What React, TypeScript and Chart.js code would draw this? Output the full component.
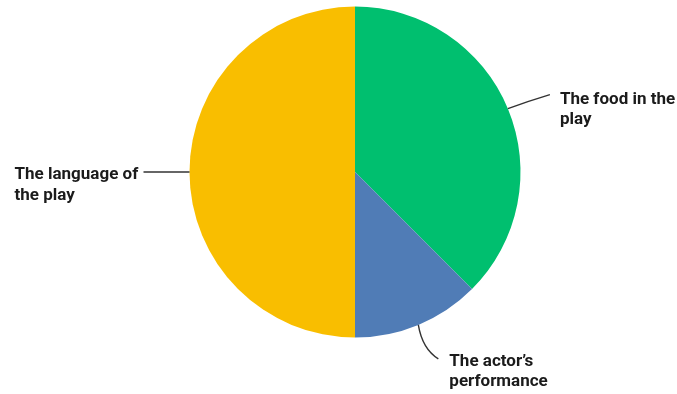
import React, { useEffect, useRef } from "react";
import { Chart, registerables } from "chart.js";

Chart.register(...registerables);

const categories: string[][] = [
  ["The food in the", "play"],
  ["The actor\u2019s", "performance"],
  ["The language of", "the play"],
];
const values: number[] = [37.5, 12.5, 50];
const colors: string[] = ["#00BF6F", "#507CB6", "#F9BE00"];

// label placement relative to each slice's outer mid point: [lineEndDx, lineEndDy, ctrlDx, ctrlDy, textX offset, textBaseline offset, align]
const labelLayout: any[] = [
  { end: [42, -14], ctrl: [22, -8], text: [52, -5], align: "left" },
  { end: [20, 34], ctrl: [4, 24], text: [31, 41], align: "left" },
  { end: [-46, 0], ctrl: [-20, 0], text: [-175, 7], align: "left" },
];

const FONT = "bold 17px Roboto, 'Noto Sans', sans-serif";

const labelPlugin = {
  id: "pieLabels",
  afterDatasetsDraw(chart: any) {
    const ctx = chart.ctx;
    const meta = chart.getDatasetMeta(0);
    meta.data.forEach((arc: any, i: number) => {
      const p = arc.getProps(["x", "y", "startAngle", "endAngle", "outerRadius"], true);
      const mid = (p.startAngle + p.endAngle) / 2;
      const ax = p.x + Math.cos(mid) * p.outerRadius;
      const ay = p.y + Math.sin(mid) * p.outerRadius;
      const L = labelLayout[i];
      ctx.save();
      ctx.strokeStyle = "#333333";
      ctx.lineWidth = 1.4;
      ctx.beginPath();
      ctx.moveTo(ax, ay);
      ctx.quadraticCurveTo(ax + L.ctrl[0], ay + L.ctrl[1], ax + L.end[0], ay + L.end[1]);
      ctx.stroke();
      ctx.fillStyle = "#1b1b1b";
      ctx.font = FONT;
      ctx.textAlign = L.align;
      ctx.textBaseline = "alphabetic";
      const lines = categories[i];
      lines.forEach((t: string, k: number) => {
        ctx.fillText(t, ax + L.text[0], ay + L.text[1] + k * 20.5);
      });
      ctx.restore();
    });
  },
};

export default function App() {
  const ref = useRef<HTMLCanvasElement>(null);
  useEffect(() => {
    if (!ref.current) return;
    const chart = new Chart(ref.current, {
      type: "pie",
      data: {
        labels: categories.map((c) => c.join(" ")),
        datasets: [
          {
            data: values,
            backgroundColor: colors,
            borderWidth: 0,
            hoverOffset: 0,
            offset: 0,
          } as any,
        ],
      },
      options: {
        animation: false,
        responsive: false,
        maintainAspectRatio: false,
        layout: { padding: { top: 6.5, bottom: 56.5, left: 189.5, right: 156.5 } },
        plugins: {
          legend: { display: false },
          tooltip: { enabled: false },
        },
        events: [],
      },
      plugins: [labelPlugin],
    });
    return () => chart.destroy();
  }, []);
  return (
    <div style={{ position: "fixed", left: 0, top: 0, width: 677, height: 394, background: "#fff" }}>
      <canvas ref={ref} width={677} height={394} style={{ display: "block", width: 677, height: 394 }} />
    </div>
  );
}
